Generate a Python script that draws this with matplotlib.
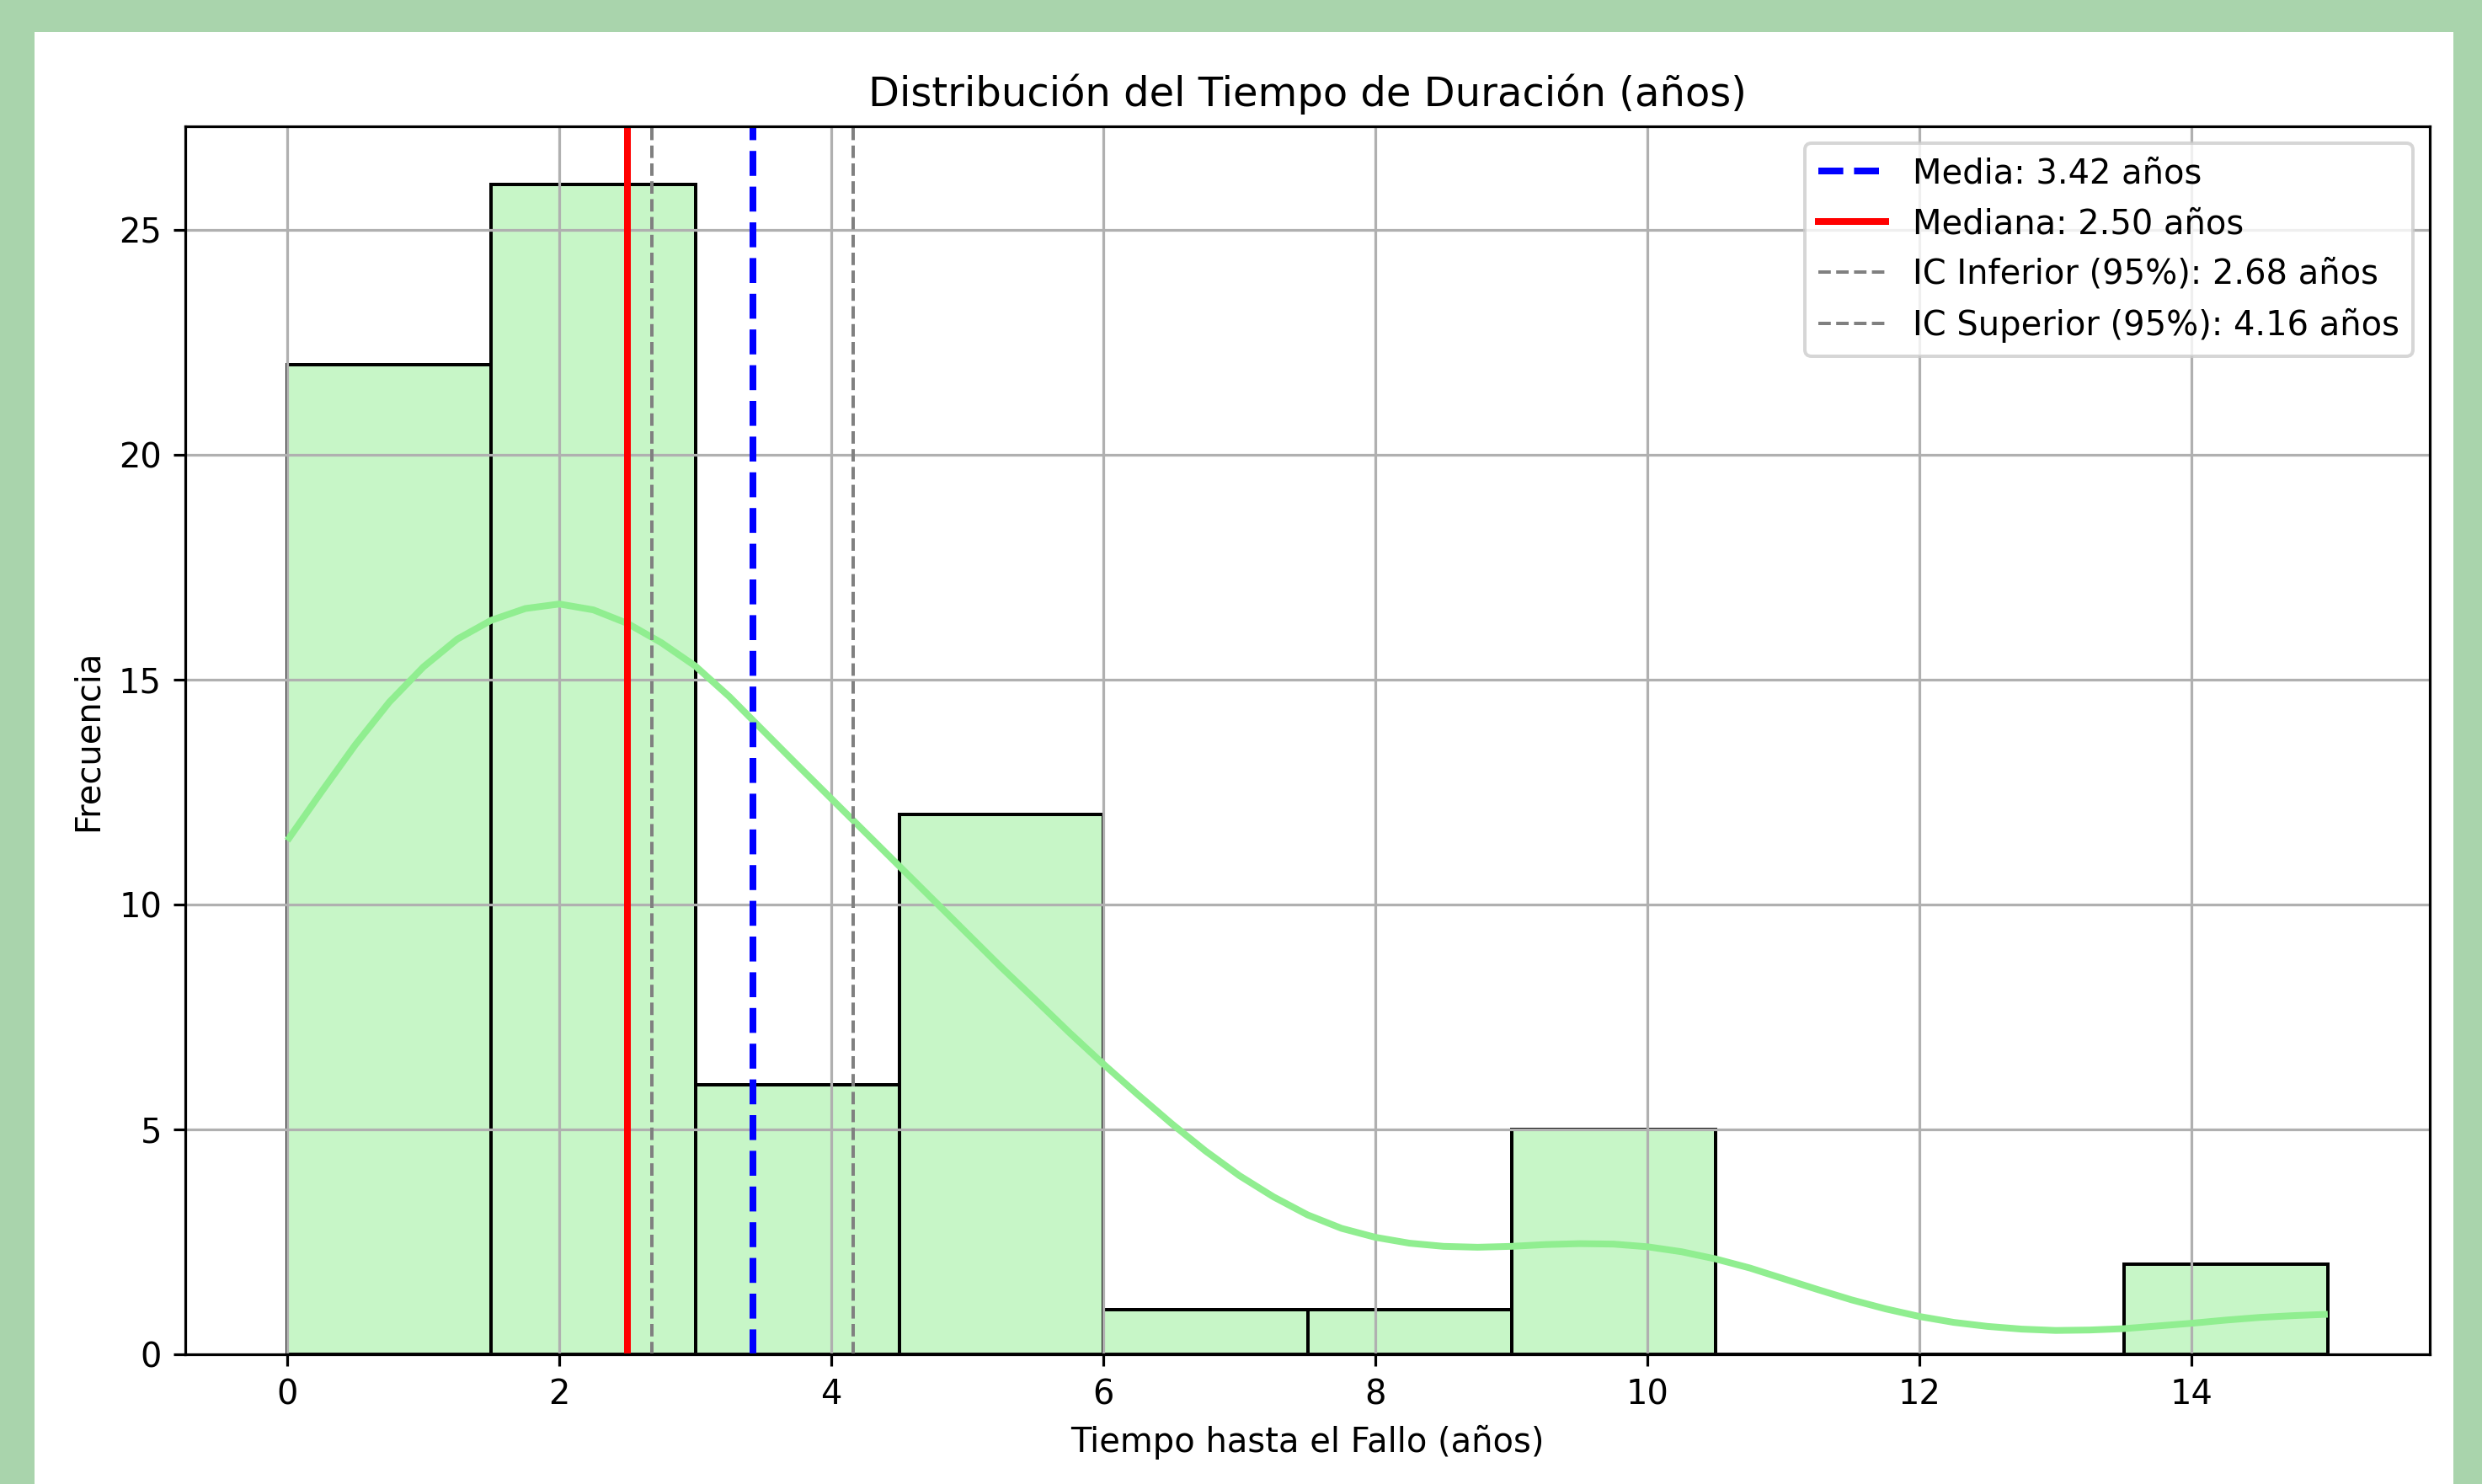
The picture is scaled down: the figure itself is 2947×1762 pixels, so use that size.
import matplotlib
matplotlib.use("Agg")
import matplotlib.pyplot as plt
from matplotlib.patches import Rectangle
from matplotlib.colors import to_rgba

# ---------------- data ----------------
bin_edges = [0.0, 1.5, 3.0, 4.5, 6.0, 7.5, 9.0, 10.5, 12.0, 13.5, 15.0]
counts = [22, 26, 6, 12, 1, 1, 5, 0, 0, 2]

kde_x = [0.0, 0.25, 0.5, 0.75, 1.0, 1.25, 1.5, 1.75, 2.0, 2.25, 2.5, 2.75,
         3.0, 3.25, 3.5, 3.75, 4.0, 4.25, 4.5, 4.75, 5.0, 5.25, 5.5, 5.75,
         6.0, 6.25, 6.5, 6.75, 7.0, 7.25, 7.5, 7.75, 8.0, 8.25, 8.5, 8.75,
         9.0, 9.25, 9.5, 9.75, 10.0, 10.25, 10.5, 10.75, 11.0, 11.25, 11.5,
         11.75, 12.0, 12.25, 12.5, 12.75, 13.0, 13.25, 13.5, 13.75, 14.0,
         14.25, 14.5, 14.75, 15.0]
kde_y = [11.42, 12.5, 13.55, 14.5, 15.28, 15.9, 16.32, 16.58, 16.68, 16.55,
         16.25, 15.82, 15.3, 14.62, 13.86, 13.1, 12.35, 11.6, 10.85, 10.1,
         9.35, 8.6, 7.88, 7.15, 6.45, 5.78, 5.13, 4.52, 3.97, 3.5, 3.1, 2.8,
         2.6, 2.47, 2.4, 2.38, 2.4, 2.44, 2.46, 2.45, 2.39, 2.28, 2.12,
         1.92, 1.68, 1.44, 1.21, 1.01, 0.84, 0.71, 0.62, 0.56, 0.53, 0.54,
         0.57, 0.63, 0.69, 0.76, 0.82, 0.86, 0.89]

media = 3.42
mediana = 2.50
ic_inf = 2.68
ic_sup = 4.16

title = "Distribución del Tiempo de Duración (años)"
xlabel = "Tiempo hasta el Fallo (años)"
ylabel = "Frecuencia"

# ---------------- figure ----------------
W, H, DPI = 2947, 1762, 288
fig = plt.figure(figsize=(W / DPI, H / DPI), dpi=DPI)
fig.patch.set_facecolor("#a9d4ac")
fig.patches.append(Rectangle((41 / W, 0), (2913 - 41) / W, (H - 38) / H,
                             transform=fig.transFigure, facecolor="white",
                             edgecolor="none", zorder=-5))

ax_l, ax_r, ax_t, ax_b = 220, 2885, 150, 1608
ax = fig.add_axes([ax_l / W, (H - ax_b) / H, (ax_r - ax_l) / W, (ax_b - ax_t) / H])

widths = [bin_edges[i + 1] - bin_edges[i] for i in range(len(counts))]
ax.bar(bin_edges[:-1], counts, width=widths, align="edge",
       facecolor=to_rgba("lightgreen", 0.5), edgecolor="black", linewidth=1.0)
ax.plot(kde_x, kde_y, color="lightgreen", linewidth=2.0,
        solid_joinstyle="round", solid_capstyle="butt")

ax.axvline(media, color="blue", linestyle="--", linewidth=2,
           label=f"Media: {media:.2f} años")
ax.axvline(mediana, color="red", linestyle="-", linewidth=2,
           label=f"Mediana: {mediana:.2f} años")
ax.axvline(ic_inf, color="gray", linestyle="--", linewidth=1,
           label=f"IC Inferior (95%): {ic_inf:.2f} años")
ax.axvline(ic_sup, color="gray", linestyle="--", linewidth=1,
           label=f"IC Superior (95%): {ic_sup:.2f} años")

ax.set_xlim(-0.75, 15.75)
ax.set_ylim(0, 27.3)
ax.set_xticks([0, 2, 4, 6, 8, 10, 12, 14])
ax.set_yticks([0, 5, 10, 15, 20, 25])
ax.grid(True)
ax.set_title(title, fontsize=12)
ax.set_xlabel(xlabel)
ax.set_ylabel(ylabel)
ax.legend(loc="upper right")

fig.savefig("out.png", dpi=DPI, facecolor=fig.get_facecolor())
